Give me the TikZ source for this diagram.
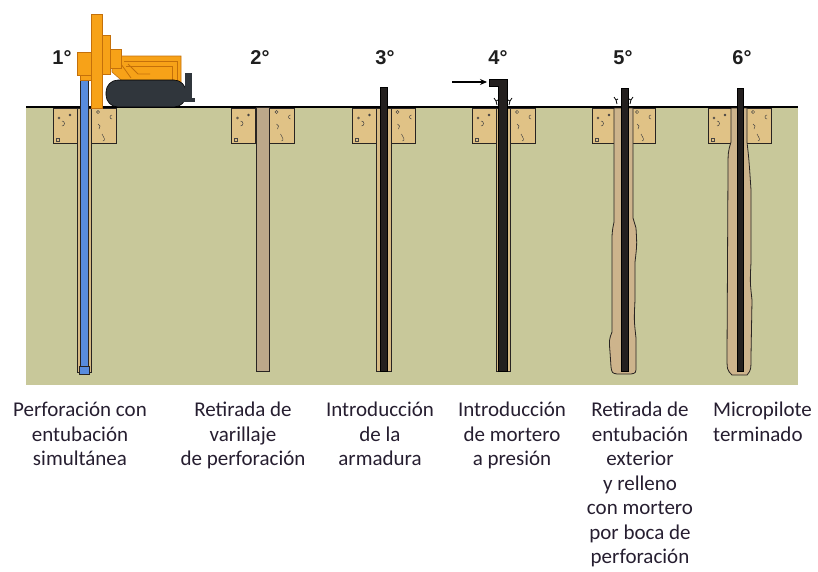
\documentclass[tikz,border=0pt]{standalone}
\usepackage{fontspec}
\setmainfont{Carlito}
\newfontfamily\numfont{Liberation Sans}
\usetikzlibrary{arrows.meta}

\definecolor{soil}{RGB}{200,200,154}
\definecolor{collarfill}{RGB}{224,194,134}
\definecolor{casingfill}{RGB}{214,186,132}
\definecolor{rodfill}{RGB}{188,168,138}
\definecolor{groutfill}{RGB}{205,180,140}
\definecolor{rigorange}{RGB}{247,162,24}
\definecolor{rigline}{RGB}{196,112,10}
\definecolor{trackgray}{RGB}{48,54,60}
\definecolor{drillblue}{RGB}{88,140,222}
\definecolor{edge}{RGB}{40,36,34}
\definecolor{labeltext}{RGB}{38,30,48}

\tikzset{
  collar/.style={fill=collarfill, draw=edge, line width=0.8pt},
  speck/.style={draw=edge!85, line width=0.5pt},
  casing/.style={fill=casingfill, draw=edge, line width=0.7pt},
  grout/.style={fill=groutfill, draw=edge, line width=0.8pt},
  steel/.style={fill=edge!90!black, draw=black, line width=0.6pt},
  rig/.style={fill=rigorange, draw=rigline, line width=0.6pt},
  clamp/.style={draw=black, line width=0.8pt},
  stage number/.style={font=\numfont\bfseries\fontsize{20}{20}\selectfont, text=black!88, inner sep=0pt},
  caption/.style={font=\fontsize{21}{24.5}\selectfont, text=labeltext, align=center, anchor=north, inner sep=0pt},
  pics/collar/.style={code={
    % two concrete blocks around the borehole mouth
    \path[collar] (-31,108) rectangle (-7,143);
    \path[collar] (7,108) rectangle (32,143);
    % aggregate specks
    \draw[speck] (-25,118) circle (1);
    \fill[edge!85] (-14,115) circle (1.3);
    \draw[speck] (-22,126) arc[start angle=90, end angle=-90, radius=2.5];
    \draw[speck] (-28,138) rectangle (-25,141);
    \draw[speck] (14,112) circle (1.6);
    \draw[speck] (28,119) arc[start angle=90, end angle=270, radius=2];
    \draw[speck] (14,124) -- (16,126) -- (15,129);
    \draw[speck] (18,134) .. controls (20,138) and (22,140) .. (19,141);
  }}
}

\begin{document}
\begin{tikzpicture}[x=1pt, y=-1pt]
\useasboundingbox (0,0) rectangle (818,571);

% ground body and surface line
\fill[soil] (26,107) rectangle (798,385);
\draw[black, line width=2.6pt] (26,107) -- (798,107);

% collars at each borehole
\pic at (84,0) {collar};
\pic at (262.5,0) {collar};
\pic at (383.5,0) {collar};
\pic at (503,0) {collar};
\pic at (623,0) {collar};
\pic at (739,0) {collar};

% stage 1: casing with the blue drill rod
\path[casing] (77,108) rectangle (91,372);
\path[fill=drillblue, draw=edge, line width=0.6pt] (80,76) rectangle (88,372);
\path[fill=drillblue, draw=edge, line width=0.6pt] (79,366) rectangle (89,374);

% stage 2: empty casing after removing the drill string
\path[fill=rodfill, draw=edge, line width=0.8pt] (256,107) rectangle (269,371);

% stage 3: reinforcement inside the casing
\path[casing] (376,108) rectangle (391,371);
\path[steel] (380,87) rectangle (387,371);

% stage 4: grout injection through the elbow
\path[casing] (496,108) rectangle (510,371);
\path[steel] (489,79) -- (507,79) -- (507,371) -- (498,371) -- (498,86) -- (489,86) -- cycle;
\coordinate (feed) at (452,82);
\coordinate (inlet) at (487,82);
\draw[-{Stealth[length=7pt,width=6pt]}, line width=1.1pt] (feed) -- (inlet);
\draw[clamp] (494,98) -- (496,101) -- (498,100) (496,101) -- (497,105);
\draw[clamp] (512,98) -- (510,101) -- (508,100) (510,101) -- (509,105);

% stage 5: casing withdrawn, bore filled with grout
\path[grout] (614,108) -- (614,222) .. controls (612,232) .. (612,245) -- (612,332)
  .. controls (609,340) .. (610,352) -- (611,367) .. controls (612,373) .. (617,374)
  -- (631,374) .. controls (636,373) .. (636,366) -- (636,338) .. controls (634,320) .. (635,300)
  -- (635,262) .. controls (637,245) .. (636,228) -- (633,218) -- (633,108) -- cycle;
\path[steel] (621,88) rectangle (628,371);
\draw[clamp] (614,97) -- (616,100) -- (618,99) (616,100) -- (617,104);
\draw[clamp] (633,97) -- (631,100) -- (629,99) (631,100) -- (630,104);

% stage 6: finished micropile
\path[grout] (731,108) -- (731,142) .. controls (728,152) .. (728,170) -- (727,355)
  .. controls (727,370) .. (732,375) -- (747,375) .. controls (751,370) .. (751,356)
  -- (752,300) .. controls (750,282) .. (751,262) -- (751,190) .. controls (749,160) .. (747,142)
  -- (747,108) -- cycle;
\path[steel] (737,88) rectangle (743,371);

% drilling rig
\path[rig] (112,60) -- (120,56) -- (181,56) -- (181,86) -- (128,86) -- (112,72) -- cycle;
\draw[rigline, line width=0.8pt] (124,61) -- (177,61) -- (177,84);
\draw[rigline, line width=0.8pt] (126,66) -- (172,66) -- (172,84);
\draw[rigline, line width=0.8pt] (121,64) -- (131,78);
\draw[rigline, line width=0.8pt] (128,64) -- (138,74) -- (150,74);
\path[rig] (108,49) rectangle (121,68);
\path[rig] (101,35) rectangle (110,74);
\path[fill=trackgray, draw=black, line width=0.6pt, rounded corners=12pt] (106,80) rectangle (186,107);
\fill[trackgray] (185,73) rectangle (192,99);
\fill[trackgray] (183,98) rectangle (195,102);
\path[rig] (91,14) rectangle (102,108);
\path[rig] (77,52) rectangle (91,75);
\path[rig] (80,75) rectangle (91,80);

% stage numbers
\node[stage number] (n1) at (62,58) {1°};
\node[stage number] (n2) at (260,58) {2°};
\node[stage number] (n3) at (385,58) {3°};
\node[stage number] (n4) at (498,58) {4°};
\node[stage number] (n5) at (623,58) {5°};
\node[stage number] (n6) at (742,58) {6°};

% stage captions
\node[caption] (c1) at (80,402) {Perforación con\\entubación\\simultánea};
\node[caption] (c2) at (243,402) {Retirada de\\varillaje\\de perforación};
\node[caption] (c3) at (380,402) {Introducción\\de la\\armadura};
\node[caption] (c4) at (512,402) {Introducción\\de mortero\\a presión};
\node[caption] (c5) at (640,402) {Retirada de\\entubación\\exterior\\y relleno\\con mortero\\por boca de\\perforación};
\node[caption, align=left, anchor=north west] (c6) at (713,402) {Micropilote\\terminado};
\end{tikzpicture}
\end{document}
